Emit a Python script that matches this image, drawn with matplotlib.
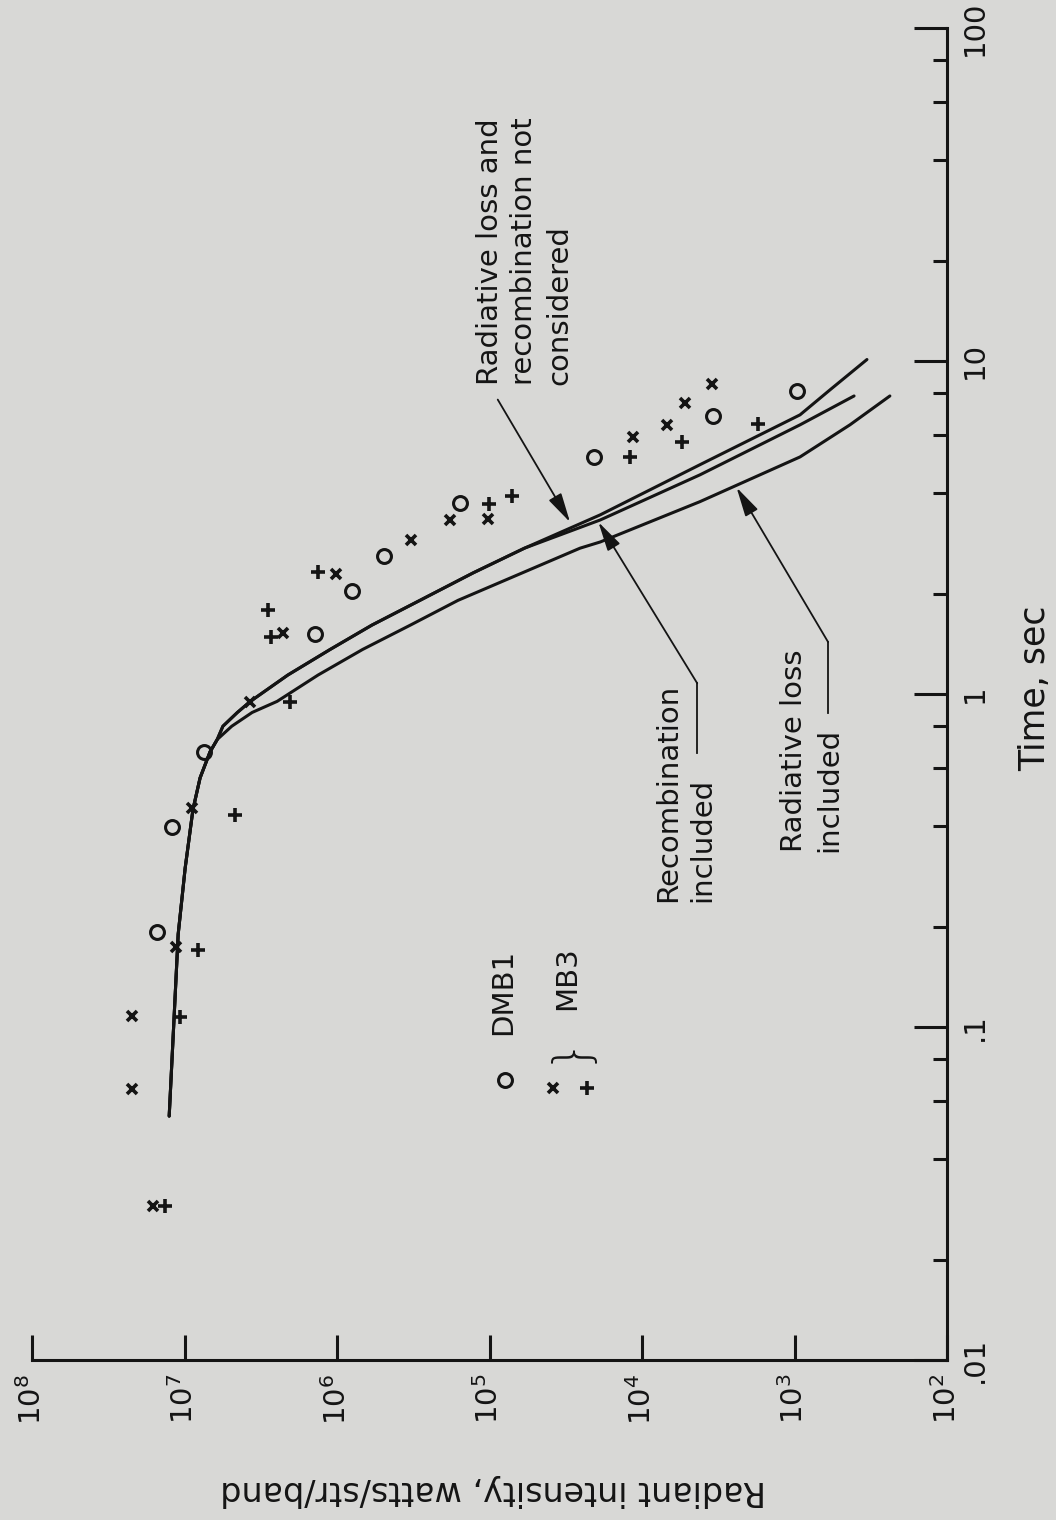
from matplotlib import pyplot as plt
from matplotlib.ticker import FixedLocator, FixedFormatter, NullFormatter

# computed curves (time in s, radiant intensity in watts/str/band)
t_none = [0.054, 0.107, 0.19, 0.30, 0.45, 0.56, 0.67, 0.73, 0.80, 0.88, 0.95,
          1.14, 1.36, 1.61, 1.91, 2.31, 2.74, 3.45, 4.88, 6.89, 8.19, 10.1]
i_none = [1.26e7, 1.17e7, 1.10e7, 9.9e6, 8.8e6, 7.9e6, 6.8e6, 6.1e6, 5.6e6, 4.5e6, 3.7e6,
          2.1e6, 1.11e6, 5.9e5, 2.86e5, 1.28e5, 5.9e4, 1.88e4, 4.17e3, 920, 585, 335]

t_recomb = [0.054, 0.107, 0.19, 0.30, 0.45, 0.56, 0.67, 0.73, 0.80, 0.88, 0.95,
            1.14, 1.36, 1.61, 1.91, 2.31, 2.74, 3.33, 4.55, 6.43, 7.85]
i_recomb = [1.26e7, 1.17e7, 1.10e7, 9.9e6, 8.8e6, 7.9e6, 6.8e6, 6.1e6, 5.6e6, 4.5e6, 3.7e6,
            2.1e6, 1.11e6, 5.9e5, 2.86e5, 1.28e5, 5.9e4, 1.88e4, 4.17e3, 920, 407]

t_rad = [0.054, 0.107, 0.19, 0.30, 0.45, 0.56, 0.67, 0.73, 0.80, 0.88, 0.95,
         1.14, 1.36, 1.61, 1.91, 2.74, 2.86, 3.78, 5.15, 6.43, 7.85]
i_rad = [1.26e7, 1.17e7, 1.10e7, 9.9e6, 8.8e6, 7.9e6, 6.8e6, 6.1e6, 4.9e6, 3.6e6, 2.47e6,
         1.33e6, 6.8e5, 3.3e5, 1.61e5, 2.55e4, 1.88e4, 4.17e3, 920, 433, 237]

# measured points
dmb1_t = [0.193, 0.399, 0.670, 1.51, 2.04, 2.59, 3.75, 5.15, 6.84, 8.13]
dmb1_i = [1.51e7, 1.21e7, 7.45e6, 1.39e6, 7.98e5, 4.92e5, 1.56e5, 2.07e4, 3.42e3, 964]

mb3x_t = [0.029, 0.065, 0.108, 0.174, 0.455, 0.946, 1.52, 2.29, 2.90, 3.33, 3.36,
          5.92, 6.43, 7.48, 8.53]
mb3x_i = [1.61e7, 2.21e7, 2.21e7, 1.14e7, 8.93e6, 3.72e6, 2.26e6, 1.02e6, 3.27e5,
          1.82e5, 1.02e5, 1.15e4, 6.86e3, 5.22e3, 3.48e3]

mb3p_t = [0.029, 0.107, 0.170, 0.434, 0.946, 1.48, 1.79, 2.32, 3.73, 3.94, 5.15, 5.71, 6.47]
mb3p_i = [1.34e7, 1.07e7, 8.15e6, 4.67e6, 2.03e6, 2.71e6, 2.83e6, 1.33e6, 1.01e5,
          7.11e4, 1.20e4, 5.47e3, 1.73e3]

t_ticks = [0.01, 0.1, 1, 10, 100]
t_labels = ['.01', '.1', '1', '10', '100']
t_minor = [m * d for d in [0.01, 0.1, 1, 10] for m in (2, 4, 6, 8)]
i_ticks = [1e2, 1e3, 1e4, 1e5, 1e6, 1e7, 1e8]
i_labels = [r'$10^{%d}$' % n for n in range(2, 9)]

bg = '#d8d8d6'
ink = '#141414'

plt.rcParams['font.family'] = ['DejaVu Sans']

fig = plt.figure(figsize=(10.56, 15.2), dpi=100, facecolor=bg)
ax = fig.add_axes([0.0303, 0.1053, 0.8665, 0.8763], facecolor=bg)

# page is turned: intensity runs right-to-left along the bottom, time up the right side
ax.set_xscale('log')
ax.set_yscale('log')
ax.set_xlim(1e8, 1e2)
ax.set_ylim(0.01, 100)

for tt, ii in ((t_none, i_none), (t_recomb, i_recomb), (t_rad, i_rad)):
    ax.plot(ii, tt, color=ink, lw=2.2, solid_capstyle='round', solid_joinstyle='round')

ax.plot(dmb1_i, dmb1_t, ls='', marker='o', ms=10, mfc='none', mec=ink, mew=2.2)
ax.plot(mb3x_i, mb3x_t, ls='', marker='x', ms=7.5, mec=ink, mew=2.6)
ax.plot(mb3p_i, mb3p_t, ls='', marker='+', ms=10, mec=ink, mew=2.6)

for side in ('left', 'top'):
    ax.spines[side].set_visible(False)
for side in ('right', 'bottom'):
    ax.spines[side].set_linewidth(2.2)
    ax.spines[side].set_color(ink)

ax.yaxis.tick_right()
ax.yaxis.set_major_locator(FixedLocator(t_ticks))
ax.yaxis.set_major_formatter(FixedFormatter(t_labels))
ax.yaxis.set_minor_locator(FixedLocator(t_minor))
ax.yaxis.set_minor_formatter(NullFormatter())
ax.xaxis.set_major_locator(FixedLocator(i_ticks))
ax.xaxis.set_major_formatter(FixedFormatter(i_labels))
ax.xaxis.set_minor_locator(FixedLocator([]))

ax.tick_params(axis='y', which='major', direction='in', length=24, width=2.2,
               color=ink, pad=10, labelsize=21, labelcolor=ink, labelrotation=90)
ax.tick_params(axis='y', which='minor', direction='in', length=10, width=2.2, color=ink)
ax.tick_params(axis='x', which='major', direction='in', length=18, width=2.2,
               color=ink, pad=10, labelsize=21, labelcolor=ink, labelrotation=90)
for lb in ax.get_yticklabels():
    lb.set_va('center')

ax.set_ylabel('Time, sec', fontsize=25, color=ink, rotation=90, va='center', ha='center')
ax.yaxis.set_label_position('right')
ax.yaxis.set_label_coords(1.078, 0.504)
ax.set_xlabel('Radiant intensity, watts/str/band', fontsize=24, color=ink,
              rotation=180, va='center', ha='center')
ax.xaxis.set_label_coords(0.504, -0.098)

# key
ax.plot([0.517], [0.21], transform=ax.transAxes, ls='', marker='o', ms=10,
        mfc='none', mec=ink, mew=2.2, clip_on=False)
ax.plot([0.569], [0.204], transform=ax.transAxes, ls='', marker='x', ms=7.5,
        mec=ink, mew=2.6, clip_on=False)
ax.plot([0.607], [0.204], transform=ax.transAxes, ls='', marker='+', ms=10,
        mec=ink, mew=2.6, clip_on=False)
ax.text(0.515, 0.244, 'DMB1', transform=ax.transAxes, rotation=90, ha='center',
        va='bottom', fontsize=21, color=ink)
ax.text(0.585, 0.235, '}', transform=ax.transAxes, rotation=90, ha='center',
        va='center', fontsize=36, color=ink, fontweight='light')
ax.text(0.585, 0.263, 'MB3', transform=ax.transAxes, rotation=90, ha='center',
        va='bottom', fontsize=21, color=ink)

# curve labels with leaders
txt = dict(transform=ax.transAxes, rotation=90, ha='center', va='bottom',
           fontsize=21, color=ink, multialignment='left', linespacing=1.3)
ax.text(0.538, 0.732, 'Radiative loss and\nrecombination not\nconsidered', **txt)
ax.text(0.714, 0.344, 'Recombination\nincluded', **txt)
ax.text(0.852, 0.381, 'Radiative loss\nincluded', **txt)

arw = dict(arrowstyle='-|>,head_length=0.9,head_width=0.22', color=ink, lw=1.3,
           shrinkA=0, shrinkB=0, mutation_scale=20)
ax.annotate('', xy=(0.588, 0.629), xytext=(0.509, 0.721), xycoords='axes fraction',
            arrowprops=arw)
ax.plot([0.727, 0.727], [0.456, 0.508], transform=ax.transAxes, color=ink, lw=1.3)
ax.annotate('', xy=(0.619, 0.629), xytext=(0.727, 0.508), xycoords='axes fraction',
            arrowprops=arw)
ax.plot([0.870, 0.870], [0.486, 0.539], transform=ax.transAxes, color=ink, lw=1.3)
ax.annotate('', xy=(0.770, 0.655), xytext=(0.870, 0.539), xycoords='axes fraction',
            arrowprops=arw)

fig.savefig('out.png', dpi=100, facecolor=bg)
